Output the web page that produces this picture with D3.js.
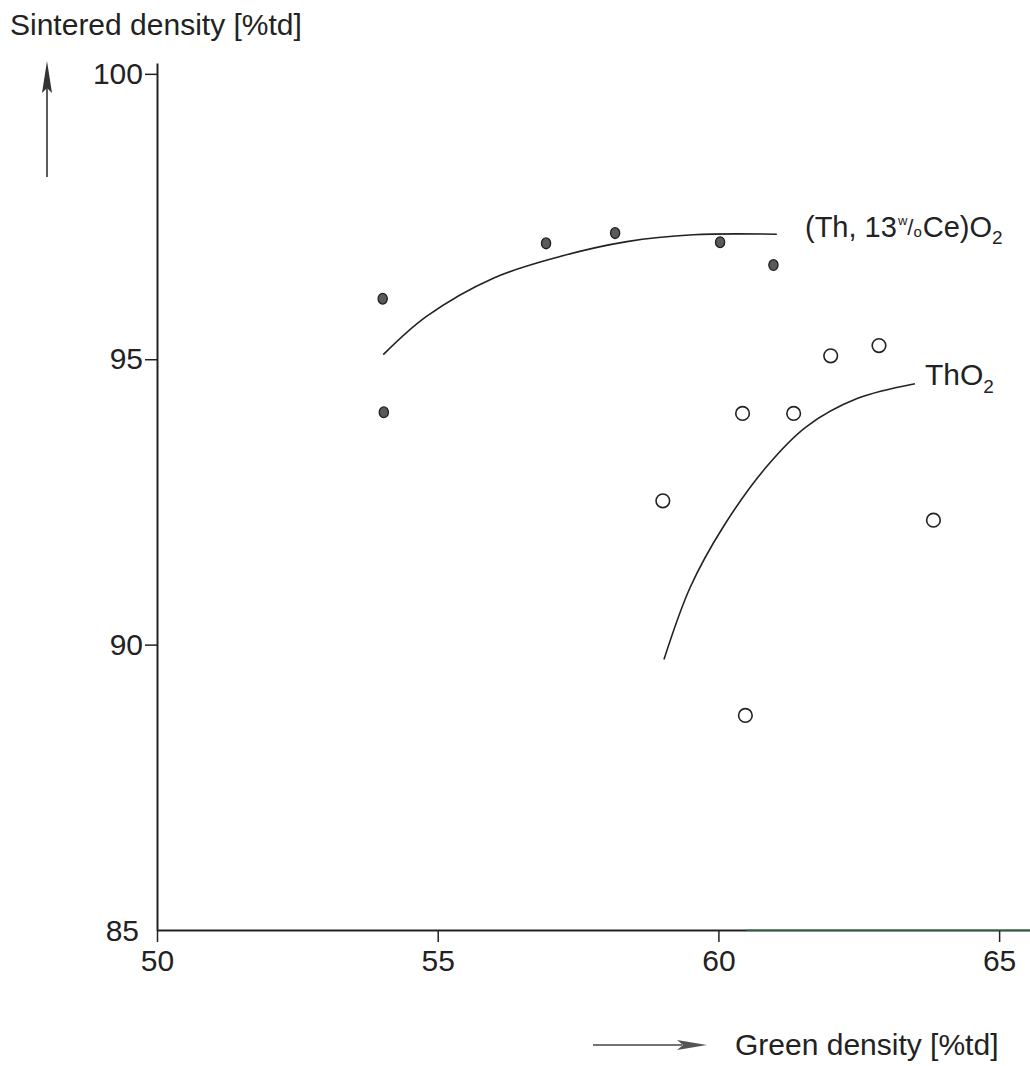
<!DOCTYPE html>
<html>
<head>
<meta charset="utf-8">
<script src="https://cdn.jsdelivr.net/npm/d3@7"></script>
<style>
  html, body { margin: 0; padding: 0; background: #fff; }
  text { font-family: "Liberation Sans", Arial, sans-serif; fill: #222; }
</style>
</head>
<body>
<svg id="chart" width="1030" height="1066"></svg>
<script>
// ---- data ----
const xTicks = [50, 55, 60, 65];
const yTicks = [85, 90, 95, 100];

// (Th, 13 w/o Ce)O2 measured points (filled)
const ceX = [54.02, 54.04, 56.93, 58.16, 60.03, 60.98];
const ceY = [96.06, 94.07, 97.03, 97.21, 97.05, 96.65];
// ThO2 measured points (open)
const thX = [59.01, 60.43, 61.34, 62.00, 62.86, 63.83, 60.48];
const thY = [92.52, 94.05, 94.05, 95.06, 95.24, 92.18, 88.76];

// fitted curves
const ceCurveX = [54.03, 54.80, 55.99, 57.18, 58.37, 59.55, 61.04];
const ceCurveY = [95.08, 95.75, 96.42, 96.80, 97.06, 97.18, 97.19];
const thCurveX = [59.03, 59.50, 60.09, 60.86, 61.57, 62.47, 63.50];
const thCurveY = [89.74, 91.01, 92.07, 93.12, 93.82, 94.31, 94.57];

// ---- drawing ----
const svg = d3.select("#chart");
const ink = "#222";

const x = d3.scaleLinear().domain([50, 65.55]).range([157, 1030]);
const y = d3.scaleLinear().domain([85, 100.19]).range([930, 63]);

// x axis
const gx = svg.append("g").attr("transform", `translate(0,${y(85)})`)
  .call(d3.axisBottom(x).tickValues(xTicks).tickSize(12).tickSizeOuter(0).tickPadding(10).tickFormat(d3.format("d")));
gx.select(".domain").attr("stroke", ink).attr("stroke-width", 2);
gx.selectAll(".tick line").attr("stroke", ink).attr("stroke-width", 1.5);
gx.selectAll(".tick text").attr("font-size", 30).attr("font-family", "Liberation Sans, Arial, sans-serif").attr("fill", ink).attr("dy", "0.62em");

// slight greenish tint on right part of the x-axis line as in the scan
svg.append("line").attr("x1", x(60.5)).attr("x2", 1030).attr("y1", y(85)).attr("y2", y(85))
  .attr("stroke", "#3f8f55").attr("stroke-width", 1.6).attr("opacity", 0.7);

// y axis
const gy = svg.append("g").attr("transform", `translate(${x(50)},0)`)
  .call(d3.axisLeft(y).tickValues(yTicks.filter(d => d !== 85)).tickSize(12).tickSizeOuter(0).tickPadding(2).tickFormat(d3.format("d")));
gy.select(".domain").attr("stroke", ink).attr("stroke-width", 2);
gy.selectAll(".tick line").attr("stroke", ink).attr("stroke-width", 1.5);
gy.selectAll(".tick text").attr("font-size", 30).attr("font-family", "Liberation Sans, Arial, sans-serif").attr("fill", ink);
// 85 label (no tick, sits at the corner)
svg.append("text").attr("x", x(50) - 18).attr("y", y(85)).attr("dy", "0.35em")
  .attr("text-anchor", "end").attr("font-size", 30).text("85");

// fitted curves
const line = d3.line().x(d => x(d[0])).y(d => y(d[1])).curve(d3.curveCatmullRom.alpha(0.5));
svg.append("path").datum(d3.zip(ceCurveX, ceCurveY)).attr("d", line)
  .attr("fill", "none").attr("stroke", ink).attr("stroke-width", 1.6);
svg.append("path").datum(d3.zip(thCurveX, thCurveY)).attr("d", line)
  .attr("fill", "none").attr("stroke", ink).attr("stroke-width", 1.6);

// points
svg.append("g").selectAll("ellipse").data(d3.zip(ceX, ceY)).join("ellipse")
  .attr("cx", d => x(d[0])).attr("cy", d => y(d[1])).attr("rx", 4.6).attr("ry", 5.4)
  .attr("fill", "#5a5a5a").attr("stroke", "#1e1e1e").attr("stroke-width", 1.3);
svg.append("g").selectAll("circle").data(d3.zip(thX, thY)).join("circle")
  .attr("cx", d => x(d[0])).attr("cy", d => y(d[1])).attr("r", 6.8)
  .attr("fill", "#fff").attr("stroke", ink).attr("stroke-width", 1.6);

// series labels
const ceLab = svg.append("text").attr("x", 805).attr("y", 237).attr("font-size", 29);
ceLab.append("tspan").text("(Th, 13");
ceLab.append("tspan").attr("font-size", 13).attr("dy", -12).attr("dx", 1).text("w");
ceLab.append("tspan").attr("font-size", 22).attr("dy", 10).text("/");
ceLab.append("tspan").attr("font-size", 15).attr("dy", 2).text("o");
ceLab.append("tspan").attr("dx", 1).text("Ce)O");
ceLab.append("tspan").attr("font-size", 19).attr("dy", 7).text("2");

const thLab = svg.append("text").attr("x", 925).attr("y", 385).attr("font-size", 30);
thLab.append("tspan").text("ThO");
thLab.append("tspan").attr("font-size", 19).attr("dy", 8).text("2");

// axis titles
svg.append("text").attr("x", 10).attr("y", 35).attr("font-size", 30).text("Sintered density [%td]");
svg.append("text").attr("x", 735).attr("y", 1055).attr("font-size", 30).text("Green density [%td]");

// direction arrows
svg.append("line").attr("x1", 47).attr("x2", 47).attr("y1", 177).attr("y2", 88)
  .attr("stroke", "#333").attr("stroke-width", 1.6);
svg.append("path").attr("d", "M47,61 L52,93 L47,88 L42,93 Z").attr("fill", "#333");

svg.append("line").attr("x1", 593).attr("x2", 682).attr("y1", 1045).attr("y2", 1045)
  .attr("stroke", "#444").attr("stroke-width", 1.5);
svg.append("path").attr("d", "M707,1045 L677,1050 L683,1045 L677,1040 Z").attr("fill", "#555");
</script>
</body>
</html>
